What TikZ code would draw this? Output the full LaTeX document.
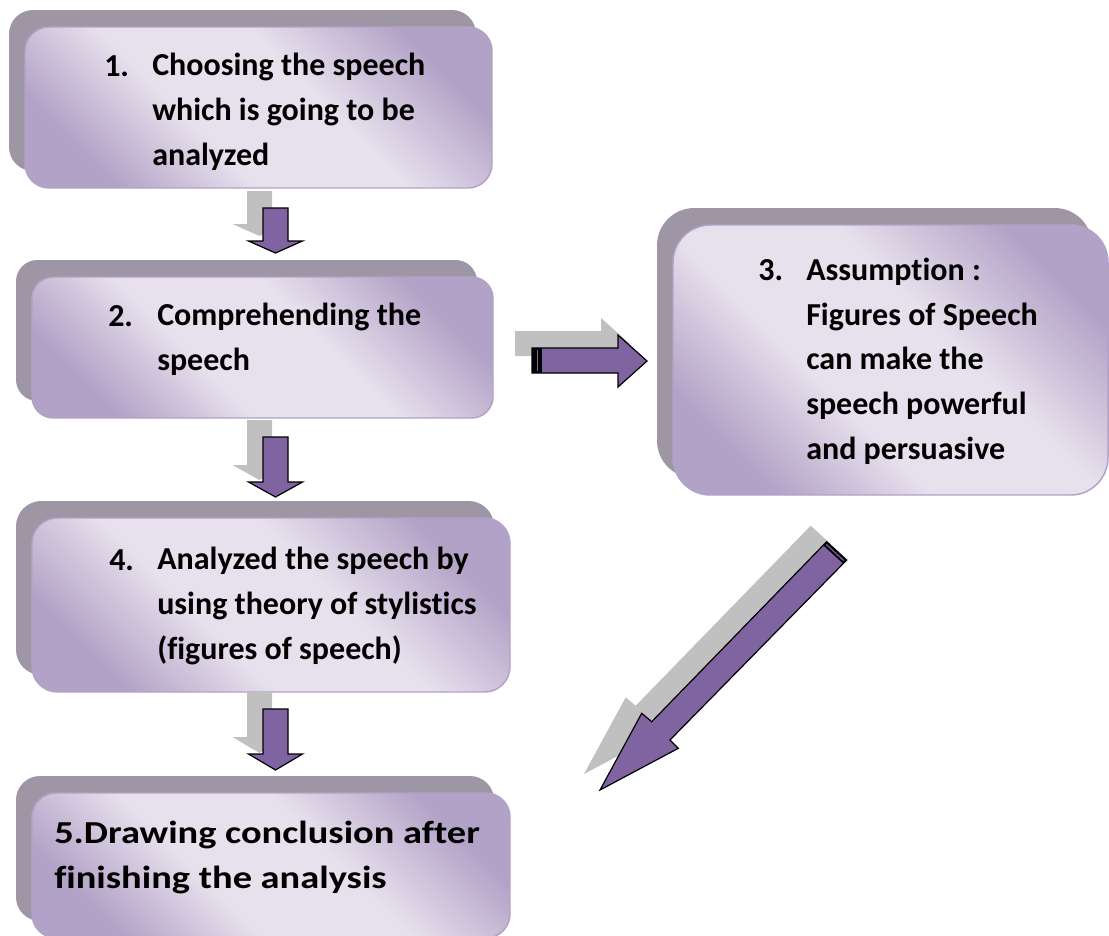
\documentclass[tikz,border=0pt]{standalone}
\usepackage{fontspec}
\setmainfont{Carlito}[Ligatures={NoCommon}]
\usetikzlibrary{shadows}
\definecolor{boxsh}{HTML}{9F96A5}
\definecolor{boxline}{HTML}{B3A2C7}
\definecolor{boxdark}{HTML}{B3A2C7}
\definecolor{boxlight}{HTML}{E7E1ED}
\definecolor{arrfill}{HTML}{8064A2}
\definecolor{arrsh}{HTML}{C0C0C0}
\pgfdeclareverticalshading{boxgrad}{100bp}{color(0bp)=(boxdark); color(25bp)=(boxdark); color(41bp)=(boxlight); color(58bp)=(boxlight); color(75bp)=(boxdark); color(100bp)=(boxdark)}
\newcommand\dnarr[3]{(263,#1) -- (288,#1) -- (288,#2) -- (302.5,#2) -- (275.5,#3) -- (248.5,#2) -- (263,#2) -- cycle}
\newcommand\rtarr{(532,348) -- (618,348) -- (618,335) -- (647,361) -- (618,387) -- (618,373) -- (532,373) -- cycle}
\newcommand\dgarr{(826.7,541.7) -- (651.7,721.7) -- (641.7,713.3) -- (600,790) -- (678.3,748.3) -- (670,740) -- (846.7,560) -- cycle}
\begin{document}
\begin{tikzpicture}[x=0.75pt,y=-0.75pt,
  box/.style={draw=boxline, line width=1.1pt, shading=boxgrad, shading angle=-45,
    drop shadow={shadow xshift=-12pt, shadow yshift=12.75pt, fill=boxsh, opacity=1, draw=none}},
  txt/.style={anchor=base west, inner sep=0pt, align=left,
    font=\fontsize{24}{33.4}\selectfont\bfseries},
  arrp/.style={fill=arrfill, draw=black, line width=0.9pt, line join=miter},
  arrs/.style={fill=arrsh}]
\useasboundingbox (0,0) rectangle (1109,935);
% boxes
\node[box, rounded corners=18pt, minimum width=350.25pt, minimum height=120.75pt] (b1) at (258.5,107.5) {};
\node[box, rounded corners=16pt, minimum width=345.75pt, minimum height=105.75pt] (b2) at (262.5,347.5) {};
\node[box, rounded corners=28pt, minimum width=326.25pt, minimum height=202.5pt] (b3) at (890.5,360) {};
\node[box, rounded corners=19pt, minimum width=358.5pt, minimum height=130.5pt] (b4) at (271,605) {};
\node[box, rounded corners=18pt, minimum width=358.5pt, minimum height=108.75pt] (b5) at (271,865.5) {};
% texts (anchor base = baseline of the last line)
\node[txt] (n1) at (104,76) {1.};
\node[txt] (t1) at (152,165) {Choosing the speech\\which is going to be\\analyzed};
\node[txt] (n2) at (108,326) {2.};
\node[txt] (t2) at (157,370.5) {Comprehending the\\speech};
\node[txt] (n3) at (758,280) {3.};
\node[txt] (t3) at (806,459) {Assumption :\\Figures of Speech\\can make the\\speech powerful\\and persuasive};
\node[txt] (n4) at (109,570) {4.};
\node[txt] (t4) at (157,659) {Analyzed the speech by\\using theory of stylistics\\(figures of speech)};
\node[txt] (t5a) at (54,843) {\scalebox{1.2}[1]{5.Drawing conclusion after}};
\node[txt] (t5b) at (54,888) {\scalebox{1.2}[1]{finishing the analysis}};
% down arrows
\fill[arrs, shift={(-16,-17)}] \dnarr{208}{241}{253};
\draw[arrp] \dnarr{208}{241}{253};
\fill[arrs, shift={(-16,-17)}] \dnarr{437}{482}{497};
\draw[arrp] \dnarr{437}{482}{497};
\fill[arrs, shift={(-16,-17)}] \dnarr{709}{754}{770};
\draw[arrp] \dnarr{709}{754}{770};
% right arrow
\fill[arrs, shift={(-17,-17)}] \rtarr;
\draw[arrp] \rtarr;
\fill[black] (532,348) rectangle (542,373);
\draw[arrfill, line width=1.1pt] (537.5,350) -- (537.5,371);
% diagonal arrow
\fill[arrs, shift={(-16,-16)}] \dgarr;
\draw[arrp] \dgarr;
\fill[black] (826.7,541.7) -- (846.7,560) -- (843.2,563.6) -- (823.2,545.3) -- cycle;
\draw[arrfill, line width=0.9pt] (826.2,544.5) -- (843.8,560.6);
\end{tikzpicture}
\end{document}
